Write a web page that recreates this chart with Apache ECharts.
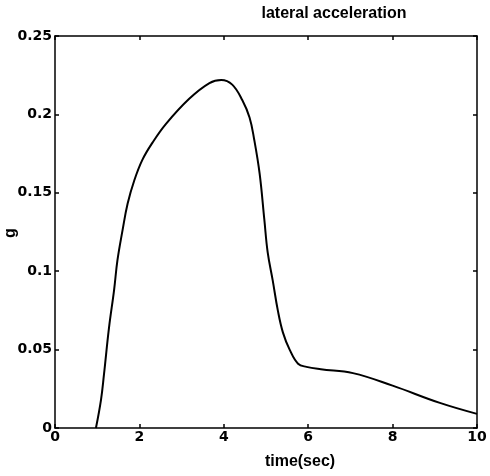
<!DOCTYPE html>
<html>
<head>
<meta charset="utf-8">
<title>lateral acceleration</title>
<script src="https://cdn.jsdelivr.net/npm/echarts@6/dist/echarts.min.js"></script>
<style>
  html, body { margin: 0; padding: 0; background: #fff; }
  #chart { width: 490px; height: 476px; }
</style>
</head>
<body>
<div id="chart"></div>
<script>
// Lateral acceleration response over the 10 s manoeuvre
const timeSec = [0.97, 1.09, 1.16, 1.28, 1.40, 1.48, 1.60, 1.72, 1.88, 2.07, 2.31, 2.63, 3.18, 3.66, 3.94, 4.20, 4.44, 4.61, 4.72, 4.85, 4.96, 5.04, 5.16, 5.28, 5.40, 5.56, 5.76, 5.96, 6.30, 7.06, 8.00, 9.12, 10.0];
const accelG  = [0.000, 0.018, 0.034, 0.064, 0.088, 0.107, 0.126, 0.143, 0.158, 0.171, 0.182, 0.194, 0.210, 0.220, 0.222, 0.219, 0.209, 0.198, 0.184, 0.162, 0.133, 0.112, 0.094, 0.075, 0.061, 0.050, 0.041, 0.039, 0.0375, 0.035, 0.027, 0.016, 0.009];

const xTicks = [0, 2, 4, 6, 8, 10];
const yTicks = [0, 0.05, 0.1, 0.15, 0.2, 0.25];

const titleText = 'lateral acceleration';
const xLabel = 'time(sec)';
const yLabel = 'g';

const tickFont = { fontFamily: 'DejaVu Sans', fontWeight: 'bold', fontSize: 14, color: '#000' };
const labelFont = 'bold 16px "Liberation Sans", Arial, sans-serif';

const axisLine = { show: true, onZero: false, lineStyle: { color: '#000', width: 1.5 } };
const axisTick = { show: true, inside: true, length: 4, lineStyle: { color: '#000', width: 1.5 } };

const chart = echarts.init(document.getElementById('chart'));
chart.setOption({
  animation: false,
  backgroundColor: '#fff',
  grid: { left: 55, right: 13, top: 36, bottom: 48, containLabel: false, outerBoundsMode: 'none' },
  xAxis: [
    {
      type: 'value', position: 'bottom',
      min: xTicks[0], max: xTicks[xTicks.length - 1], interval: 2,
      axisLine, axisTick,
      axisLabel: Object.assign({ margin: 2 }, tickFont),
      splitLine: { show: false }
    },
    {
      type: 'value', position: 'top',
      min: xTicks[0], max: xTicks[xTicks.length - 1], interval: 2,
      axisLine, axisTick,
      axisLabel: { show: false },
      splitLine: { show: false }
    }
  ],
  yAxis: [
    {
      type: 'value', position: 'left',
      min: yTicks[0], max: yTicks[yTicks.length - 1], interval: 0.05,
      axisLine, axisTick,
      axisLabel: Object.assign({ margin: 3 }, tickFont),
      splitLine: { show: false }
    },
    {
      type: 'value', position: 'right',
      min: yTicks[0], max: yTicks[yTicks.length - 1], interval: 0.05,
      axisLine, axisTick,
      axisLabel: { show: false },
      splitLine: { show: false }
    }
  ],
  graphic: [
    {
      type: 'text', x: 334, y: 14,
      style: { text: titleText, font: labelFont, fill: '#000', textAlign: 'center', textVerticalAlign: 'middle' }
    },
    {
      type: 'text', x: 300, y: 462,
      style: { text: xLabel, font: labelFont, fill: '#000', textAlign: 'center', textVerticalAlign: 'middle' }
    },
    {
      type: 'text', x: 11, y: 233, rotation: Math.PI / 2,
      style: { text: yLabel, font: labelFont, fill: '#000', textAlign: 'center', textVerticalAlign: 'middle' }
    }
  ],
  series: [
    {
      type: 'line',
      xAxisIndex: 0, yAxisIndex: 0,
      data: timeSec.map((t, i) => [t, accelG[i]]),
      showSymbol: false,
      smooth: 0.4,
      clip: true,
      lineStyle: { color: '#000', width: 2 }
    }
  ]
});
</script>
</body>
</html>
